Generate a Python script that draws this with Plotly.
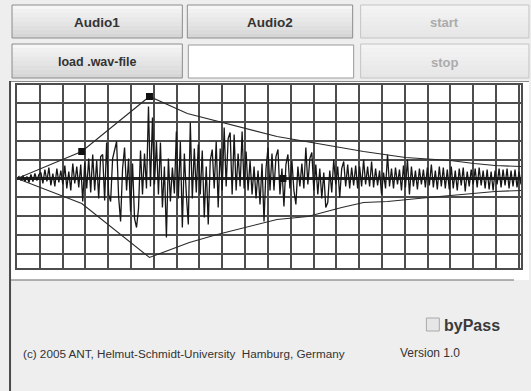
import plotly.graph_objects as go

# ---------------- data (amplitude samples) ----------------
wave = [
    0, 2, -2, 3, -3, 2, -4, 4, -3, 5, -2, 4,
    6, -5, 9, -3, 11, -7, 5, -8, 10, -4, 8,
    -6, 13, -10, 7, -12, 15, -5, 12, -9, 14,
    -23, 16, -10, 20, -14, 24, -12, 18, -20, 22,
    24, -22, 36, -16, -23, 20, 30, 37, -18, -43,
    10, 31, -12, 20, -33, 15, -40, -49, -30, 28,
    -16, 25, -10, 72, -8, 61, -6, 37, -16, 36,
    -29, 12, -59, 20, -23, 11, -15, 47, -20, 37,
    -49, 25, -16,
    -46, 56, -20, 30, -14, 34, -16, 28, -39, 12, -46, 18, 29, -10, 37, -29, 30, -12,
    51, -8, 40, 46, -16, 44, -12, 25, -8, 47, -10, 27, -12, 18, -16, 12, -20, 8,
    -26, 15, -43, 10, 31, -12, 25, -12, 22,
    29, -16, 10, -28, 14, 24, -10, 18, -12, -26, 12, -8, 15, -10, 31, -6, 20, 26,
    -12, 14, -16, 10, -20, 6, -29, -24, 8, -14, 19, -6, 12, -19, 10, 17, -8, 14,
    -10, 11, -7, 13, -10, 12, -8,
    19, -6, 12, -8, 17, -9, 10, -7, 8, -16, 6, -10, 24, -8, 10, -10, 11, -6, 9,
    -12, 13, -9, 19, -16, 12, -8, 8, -11, 10, -6, 9, -9, 11, -7, 14, -9, 8, -11,
    12, -8, 11, -10, 9, -11,
    12, -10, 8, -12, 10, -7, 11, -13, 7, -8, 9, -6, 10, -9, 11, -7, 8, -10, 9,
    -11, 7, -12, 8, -6, 10, -9, 9, -7, 10, -10, 8, -8, 9, -9, 7, -6,
]
upper_x = [0, 32.5, 66.5, 85.5, 130.5, 160.5, 174, 195, 217.5, 229.5, 240, 253]
upper_y = [0, 27, 82, 65, 42, 32, 27, 21, 18, 15, 13, 12]
lower_x = [0, 32.5, 66.5, 86.5, 100.5, 130.5, 146, 163, 174, 186, 206.5, 217.5, 230, 240, 253]
lower_y = [0, -25, -79, -64, -56, -41, -38, -29, -24, -23, -19, -17, -15, -13, -12]
handle_x = [32.5, 66.5, 133.5]
handle_y = [27, 82, 0]

buttons = ["Audio1", "Audio2", "start", "load .wav-file", "stop"]
copyright_text = "(c) 2005 ANT, Helmut-Schmidt-University  Hamburg, Germany"
version_text = "Version 1.0"
checkbox_text = "byPass"

# ---------------- layout helpers (pixel -> paper) ----------------
W, H = 531, 391
L, R, T, B = 17, 523, 85, 268


def px(x):
    return (x - L) / (R - L)


def py(y):
    return (B - y) / (B - T)


shapes = []
annotations = []


def rect(x0, y0, x1, y1, fill, line=None, lw=1, layer="below"):
    shapes.append(dict(type="rect", xref="paper", yref="paper",
                       x0=px(x0), x1=px(x1), y0=py(y1), y1=py(y0),
                       fillcolor=fill,
                       line=dict(color=line if line else fill, width=lw if line else 0),
                       layer=layer))


def hline(x0, x1, y, color, lw):
    shapes.append(dict(type="line", xref="paper", yref="paper",
                       x0=px(x0), x1=px(x1), y0=py(y), y1=py(y),
                       line=dict(color=color, width=lw), layer="below"))


def vline(x, y0, y1, color, lw):
    shapes.append(dict(type="line", xref="paper", yref="paper",
                       x0=px(x), x1=px(x), y0=py(y0), y1=py(y1),
                       line=dict(color=color, width=lw), layer="below"))


def text(s, x, y, size=12, color="#333333", anchor="center", bold=True):
    annotations.append(dict(text=f"<b>{s}</b>" if bold else s, xref="paper", yref="paper",
                            x=px(x), y=py(y), xanchor=anchor, yanchor="middle",
                            showarrow=False,
                            font=dict(family="Liberation Sans, Arial, sans-serif",
                                      size=size, color=color)))


def grad(c0, c1, t):
    a = [int(c0[i:i + 2], 16) for i in (1, 3, 5)]
    b = [int(c1[i:i + 2], 16) for i in (1, 3, 5)]
    return "#" + "".join(f"{round(a[k] + (b[k] - a[k]) * t):02x}" for k in range(3))


def button(x0, y0, x1, y1, label, enabled=True, size=12.5):
    n = 8
    top, bot = ("#f6f6f6", "#d6d6d6") if enabled else ("#f4f4f4", "#e6e6e6")
    for k in range(n):
        ya = y0 + (y1 - y0) * k / n
        yb = y0 + (y1 - y0) * (k + 1) / n
        rect(x0, ya, x1, yb, grad(top, bot, k / (n - 1)))
    rect(x0, y0, x1, y1, "rgba(0,0,0,0)", "#8c8c8c" if enabled else "#c4c4c4", 1)
    text(label, (x0 + x1) / 2, (y0 + y1) / 2 + 1, size,
         "#333333" if enabled else "#ababab")


# buttons row 1 and row 2
button(12, 5, 183, 38, buttons[0], size=13.5)
button(188, 5, 354, 38, buttons[1], size=13.5)
button(362, 5, 531, 38, buttons[2], enabled=False, size=13)
button(12, 44, 183, 78, buttons[3], size=12.5)
rect(189, 45, 355, 78, "#ffffff", "#9a9a9a", 1)
button(362, 44, 531, 78, buttons[4], enabled=False, size=13)

# waveform panel
rect(10, 81, 531, 280, "#ffffff")
hline(10, 531, 81.5, "#8a8a8a", 1.2)
hline(10, 516, 280, "#6a6a6a", 1.2)
vline(10, 81, 391, "#4a4a4a", 2)

# checkbox + texts
rect(428, 318, 441, 331, "#e6e6e6", "#a8a8a8", 1)
text(checkbox_text, 444, 325, 16, "#3a3a3a", anchor="left")
text(copyright_text, 21, 353, 11.7, "#333333", anchor="left", bold=False)
text(version_text, 400, 353, 12, "#333333", anchor="left", bold=False)

# ---------------- traces ----------------
fig = go.Figure()
fig.add_trace(go.Scatter(x=list(range(len(wave))), y=wave, mode="lines",
                         line=dict(color="#161616", width=1.3), hoverinfo="skip"))
fig.add_trace(go.Scatter(x=upper_x, y=upper_y, mode="lines",
                         line=dict(color="#2a2a2a", width=1.1), hoverinfo="skip"))
fig.add_trace(go.Scatter(x=lower_x, y=lower_y, mode="lines",
                         line=dict(color="#2a2a2a", width=1.1), hoverinfo="skip"))
fig.add_trace(go.Scatter(x=handle_x, y=handle_y, mode="markers",
                         marker=dict(symbol="square", size=7, color="#111111"),
                         hoverinfo="skip"))

grid = "#4d4d4d"
fig.update_layout(
    width=W, height=H,
    margin=dict(l=L, r=W - R, t=T, b=H - B, pad=0),
    paper_bgcolor="#eeeeee", plot_bgcolor="#ffffff",
    showlegend=False,
    shapes=shapes, annotations=annotations,
    xaxis=dict(range=[0, 253], tick0=0, dtick=11.45, showgrid=True, gridcolor=grid,
               gridwidth=1.5, showline=True, mirror=True, linecolor=grid, linewidth=1.5,
               showticklabels=False, ticks="", zeroline=False, fixedrange=True),
    yaxis=dict(range=[-89.5, 93.5], tick0=0, dtick=18.9, showgrid=True, gridcolor=grid,
               gridwidth=1.5, showline=True, mirror=True, linecolor=grid, linewidth=1.5,
               showticklabels=False, ticks="", zeroline=True, zerolinecolor="#222222",
               zerolinewidth=2.5, fixedrange=True),
)

fig.write_html("out.html", config={"displayModeBar": False},
               post_script="document.body.style.margin='0';document.body.style.background='#eeeeee';")
